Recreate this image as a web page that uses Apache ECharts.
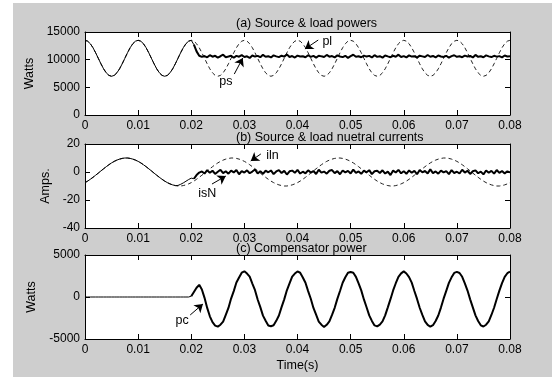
<!DOCTYPE html>
<html>
<head>
<meta charset="utf-8">
<script src="https://cdn.jsdelivr.net/npm/echarts@6/dist/echarts.min.js"></script>
<style>
  html, body { margin: 0; padding: 0; background: #ffffff; }
  #panel { position: absolute; left: 13px; top: 3px; width: 539px; height: 374px; background: #cecece; }
  #chart { position: absolute; left: 0; top: 0; width: 552px; height: 377px; }
</style>
</head>
<body>
<div id="panel"></div>
<div id="chart"></div>
<script>
// Sample grid: 0 .. 0.08 s every 0.5 ms
const STEP = 0.0005;
const time = Array.from({ length: 161 }, (_, i) => +(i * STEP).toFixed(4));

const xTickLabels = ['0', '0.01', '0.02', '0.03', '0.04', '0.05', '0.06', '0.07', '0.08'];
const powerTicks = [0, 5000, 10000, 15000];
const currentTicks = [-40, -20, 0, 20];
const compTicks = [-5000, 0, 5000];

const titles = ['(a) Source & load powers', '(b) Source & load nuetral currents', '(c) Compensator power'];

// (a) load power pl (W)
const plLoad = [
  13500,13340,12880,12160,11250,10250,9250,8340,7620,7160,7000,7160,7620,8340,9250,10250,11250,12160,12880,13340,
  13500,13340,12880,12160,11250,10250,9250,8340,7620,7160,7000,7160,7620,8340,9250,10250,11250,12160,12880,13340,
  13500,13340,12880,12160,11250,10250,9250,8340,7620,7160,7000,7160,7620,8340,9250,10250,11250,12160,12880,13340,
  13500,13340,12880,12160,11250,10250,9250,8340,7620,7160,7000,7160,7620,8340,9250,10250,11250,12160,12880,13340,
  13500,13340,12880,12160,11250,10250,9250,8340,7620,7160,7000,7160,7620,8340,9250,10250,11250,12160,12880,13340,
  13500,13340,12880,12160,11250,10250,9250,8340,7620,7160,7000,7160,7620,8340,9250,10250,11250,12160,12880,13340,
  13500,13340,12880,12160,11250,10250,9250,8340,7620,7160,7000,7160,7620,8340,9250,10250,11250,12160,12880,13340,
  13500,13340,12880,12160,11250,10250,9250,8340,7620,7160,7000,7160,7620,8340,9250,10250,11250,12160,12880,13340,
  13500
];

// (a) source power ps (W)
const psSource = [
  13500,13340,12880,12160,11250,10250,9250,8340,7620,7160,7000,7160,7620,8340,9250,10250,11250,12160,12880,13340,
  13500,13340,12880,12160,11250,10250,9250,8340,7620,7160,7000,7160,7620,8340,9250,10250,11250,12160,12880,13340,
  13500,12700,11500,10700,10500,
  10650,10420,10810,10530,10700,10380,10620,10900,10450,10580,
  10720,10350,10680,10540,10820,10470,10610,10300,10750,10560,
  10690,10440,10870,10520,10630,10400,10780,10590,10460,10710,
  10550,10950,10480,10660,10390,10740,10570,10620,10430,10800,
  10510,10680,10360,10720,10600,10490,10850,10540,10650,10410,
  10770,10580,10460,10700,10330,10640,10890,10520,10610,10440,
  10730,10560,10680,10400,10820,10500,10620,10370,10760,10590,
  10450,10700,10540,10910,10480,10650,10420,10780,10560,10630,
  10380,10720,10600,10470,10840,10530,10670,10410,10750,10580,
  10490,10700,10350,10640,10800,10520,10610,10450,10730,10570,
  10680,10400,10860,10510,10620,10440,10770,10590,10470,10700,
  10550,10640,10420,10750,10580,10620
];

// (b) load neutral current iln (A)
const ilnLoad = [
  -7.6,-6.5,-5.2,-3.8,-2.3,-0.8,0.8,2.3,3.8,5.2,6.5,7.6,8.5,9.2,9.7,10.0,10.0,9.7,9.2,8.5,
  7.6,6.5,5.2,3.8,2.3,0.8,-0.8,-2.3,-3.8,-5.2,-6.5,-7.6,-8.5,-9.2,-9.7,-10.0,-10.0,-9.7,-9.2,-8.5,
  -7.6,-6.5,-5.2,-3.8,-2.3,-0.8,0.8,2.3,3.8,5.2,6.5,7.6,8.5,9.2,9.7,10.0,10.0,9.7,9.2,8.5,
  7.6,6.5,5.2,3.8,2.3,0.8,-0.8,-2.3,-3.8,-5.2,-6.5,-7.6,-8.5,-9.2,-9.7,-10.0,-10.0,-9.7,-9.2,-8.5,
  -7.6,-6.5,-5.2,-3.8,-2.3,-0.8,0.8,2.3,3.8,5.2,6.5,7.6,8.5,9.2,9.7,10.0,10.0,9.7,9.2,8.5,
  7.6,6.5,5.2,3.8,2.3,0.8,-0.8,-2.3,-3.8,-5.2,-6.5,-7.6,-8.5,-9.2,-9.7,-10.0,-10.0,-9.7,-9.2,-8.5,
  -7.6,-6.5,-5.2,-3.8,-2.3,-0.8,0.8,2.3,3.8,5.2,6.5,7.6,8.5,9.2,9.7,10.0,10.0,9.7,9.2,8.5,
  7.6,6.5,5.2,3.8,2.3,0.8,-0.8,-2.3,-3.8,-5.2,-6.5,-7.6,-8.5,-9.2,-9.7,-10.0,-10.0,-9.7,-9.2,-8.5,
  -7.6
];

// (b) source neutral current isN (A)
const isNSource = [
  -7.6,-6.5,-5.2,-3.8,-2.3,-0.8,0.8,2.3,3.8,5.2,6.5,7.6,8.5,9.2,9.7,10.0,10.0,9.7,9.2,8.5,
  7.6,6.5,5.2,3.8,2.3,0.8,-0.8,-2.3,-3.8,-5.2,-6.5,-7.6,-8.5,-9.2,-9.7,
  -9.6,-8.8,-7.8,-6.6,-5.4,-4.4,-4.8,-2.2,-0.4,
  0.4,-1.1,1.3,-0.6,0.9,-1.4,0.2,1.6,-0.8,0.5,
  -1.2,1.0,-0.3,1.4,-1.6,0.7,-0.4,1.2,-0.9,0.3,
  1.8,-1.0,0.6,-1.3,0.9,-0.2,1.1,-1.5,0.4,1.3,
  -0.7,0.8,-1.8,0.5,1.0,-0.6,1.5,-1.1,0.2,-0.9,
  1.2,-0.4,0.7,-1.4,1.6,-0.5,0.3,-1.2,0.9,1.4,
  -0.8,0.6,-1.6,1.1,-0.3,0.8,-1.0,1.7,-0.6,0.4,
  -1.3,1.0,-0.2,1.3,-1.5,0.5,0.9,-0.7,1.2,-1.1,
  0.3,-2.2,1.0,-0.4,1.5,-0.9,0.6,-1.3,1.1,-0.5,
  0.8,-1.6,1.4,-0.2,0.7,-1.0,1.9,-0.8,0.4,-1.2,
  1.0,-0.3,0.6,-1.5,1.3,-0.7,0.2,-1.1,1.6,-0.4,
  0.9,-1.4,0.5,1.2,-0.9,0.3,-1.7,1.1,-0.5,0.8,
  -1.2,1.4,-0.6,0.7,-1.0,0.5,-0.3
];

// (c) compensator power pc (W)
const pcComp = [
  0,0,0,0,0,0,0,0,0,0,0,0,0,0,0,0,0,0,0,0,
  0,0,0,0,0,0,0,0,0,0,0,0,0,0,0,0,0,0,0,0,
  100,600,1100,1450,900,-100,-1300,-2300,-3000,-3400,
  -3520,-3300,-2930,-2120,-1300,-190,700,1720,2330,2900,3060,2790,2420,1600,810,-300,-1200,-2220,-2830,-3390,
  -3480,-3370,-2840,-2200,-1210,-280,800,1620,2430,2790,3040,2890,2330,1700,700,-210,-1300,-2110,-2920,-3300,
  -3560,-3310,-2900,-2130,-1290,-220,720,1690,2350,2880,2970,2880,2400,1620,790,-290,-1220,-2190,-2850,-3380,
  -3500,-3290,-2910,-2180,-1230,-260,780,1640,2410,2810,3050,2800,2360,1710,720,-230,-1280,-2130,-2900,-3320,
  -3540,-3360,-2850,-2200,-1260,-200,730,1680,2340,2870,2990,2860,2410,1630,770,-280,-1230,-2180,-2860,-3370,
  -3510,-3300,-2890,-2140,-1280,-240,760,1650,2400,2830,3010
];

// Callout labels with arrows, in data units: [label, labelAnchor, arrowTail, arrowHead]
const calloutsA = [
  ['pl', [0.0456, 13200], [0.0439, 13550], [0.0414, 11930]],
  ['ps', [0.0265, 6000], [0.0281, 7400], [0.0297, 10300]]
];
const calloutsB = [
  ['iln', [0.0353, 11.4], [0.0331, 12.9], [0.0312, 7.9]],
  ['isN', [0.0230, -15.7], [0.0239, -8.6], [0.0265, -2.9]]
];
const calloutsC = [
  ['pc', [0.0183, -2860], [0.0198, -2140], [0.0222, -830]]
];

const FONT = '"Liberation Sans", Arial, sans-serif';
const pts = (vals, from, to) => vals.slice(from, to + 1).map((v, k) => [time[from + k], v]);

const grids = [
  { left: 85, top: 32, width: 425, height: 83 },
  { left: 85, top: 144, width: 425, height: 84 },
  { left: 85, top: 255, width: 425, height: 84 }
];

function xAxes(gi, withName) {
  const base = {
    type: 'value', gridIndex: gi, min: 0, max: 0.08, interval: 0.01,
    axisLine: { show: true, onZero: false, lineStyle: { color: '#000', width: 1 } },
    axisTick: { show: true, inside: true, length: 5, lineStyle: { color: '#000' } },
    splitLine: { show: false }
  };
  return [
    Object.assign({}, base, {
      position: 'bottom',
      axisLabel: {
        color: '#000', fontSize: 12, fontFamily: FONT, margin: 5,
        formatter: v => xTickLabels[Math.round(v / 0.01)]
      },
      name: withName ? 'Time(s)' : '', nameLocation: 'middle', nameGap: 20,
      nameTextStyle: { color: '#000', fontSize: 12.5, fontFamily: FONT }
    }),
    Object.assign({}, base, { position: 'top', axisLabel: { show: false } })
  ];
}

function yAxes(gi, ticks, name, gap) {
  const base = {
    type: 'value', gridIndex: gi, min: ticks[0], max: ticks[ticks.length - 1],
    interval: ticks[1] - ticks[0],
    axisLine: { show: true, onZero: false, lineStyle: { color: '#000', width: 1 } },
    axisTick: { show: true, inside: true, length: 5, lineStyle: { color: '#000' } },
    splitLine: { show: false }
  };
  return [
    Object.assign({}, base, {
      position: 'left',
      axisLabel: { color: '#000', fontSize: 12, fontFamily: FONT, margin: 5, formatter: v => String(v) },
      name: name, nameLocation: 'middle', nameGap: gap, nameRotate: 90,
      nameTextStyle: { color: '#000', fontSize: 12.5, fontFamily: FONT }
    }),
    Object.assign({}, base, { position: 'right', axisLabel: { show: false } })
  ];
}

function callouts(list) {
  return {
    markLine: {
      silent: true, symbol: ['none', 'arrow'], symbolSize: 8,
      label: { show: false },
      lineStyle: { color: '#000', width: 1, type: 'solid' },
      data: list.map(c => [{ coord: c[2] }, { coord: c[3] }])
    },
    markPoint: {
      silent: true, symbol: 'circle', symbolSize: 0,
      label: { show: true, position: 'inside', color: '#000', fontSize: 12.5, fontFamily: FONT, formatter: p => p.name },
      data: list.map(c => ({ name: c[0], coord: c[1] }))
    }
  };
}

const dashed = { color: '#222', width: 1, type: [4, 3] };

function line(xi, yi, data, lineStyle, extra) {
  return Object.assign({
    type: 'line', xAxisIndex: xi, yAxisIndex: yi, data: data,
    showSymbol: false, symbol: 'none', lineStyle: lineStyle, silent: true
  }, extra || {});
}

const option = {
  animation: false,
  backgroundColor: 'transparent',
  title: titles.map((t, i) => ({
    text: t, left: 236, top: [17, 131, 242][i], padding: 0,
    textStyle: { color: '#000', fontSize: 12.5, fontWeight: 'normal', fontFamily: FONT }
  })),
  grid: grids.map(g => Object.assign({ show: true, backgroundColor: '#ffffff', borderWidth: 0 }, g)),
  xAxis: [...xAxes(0, false), ...xAxes(1, false), ...xAxes(2, true)],
  yAxis: [...yAxes(0, powerTicks, 'Watts', 38), ...yAxes(1, currentTicks, 'Amps.', 25), ...yAxes(2, compTicks, 'Watts', 37)],
  series: [
    line(0, 0, pts(plLoad, 0, 160), dashed),
    line(0, 0, pts(psSource, 0, 41), { color: '#000', width: 1 }),
    line(0, 0, pts(psSource, 41, 160), { color: '#000', width: 2 }, callouts(calloutsA)),
    line(2, 2, pts(ilnLoad, 0, 160), dashed),
    line(2, 2, pts(isNSource, 0, 41), { color: '#000', width: 1 }),
    line(2, 2, pts(isNSource, 41, 160), { color: '#000', width: 2 }, callouts(calloutsB)),
    line(4, 4, pts(pcComp, 0, 40), { color: '#000', width: 1 }),
    line(4, 4, pts(pcComp, 40, 160), { color: '#000', width: 2 }, callouts(calloutsC))
  ]
};

const chart = echarts.init(document.getElementById('chart'), null, { renderer: 'canvas' });
chart.setOption(option);
</script>
</body>
</html>
